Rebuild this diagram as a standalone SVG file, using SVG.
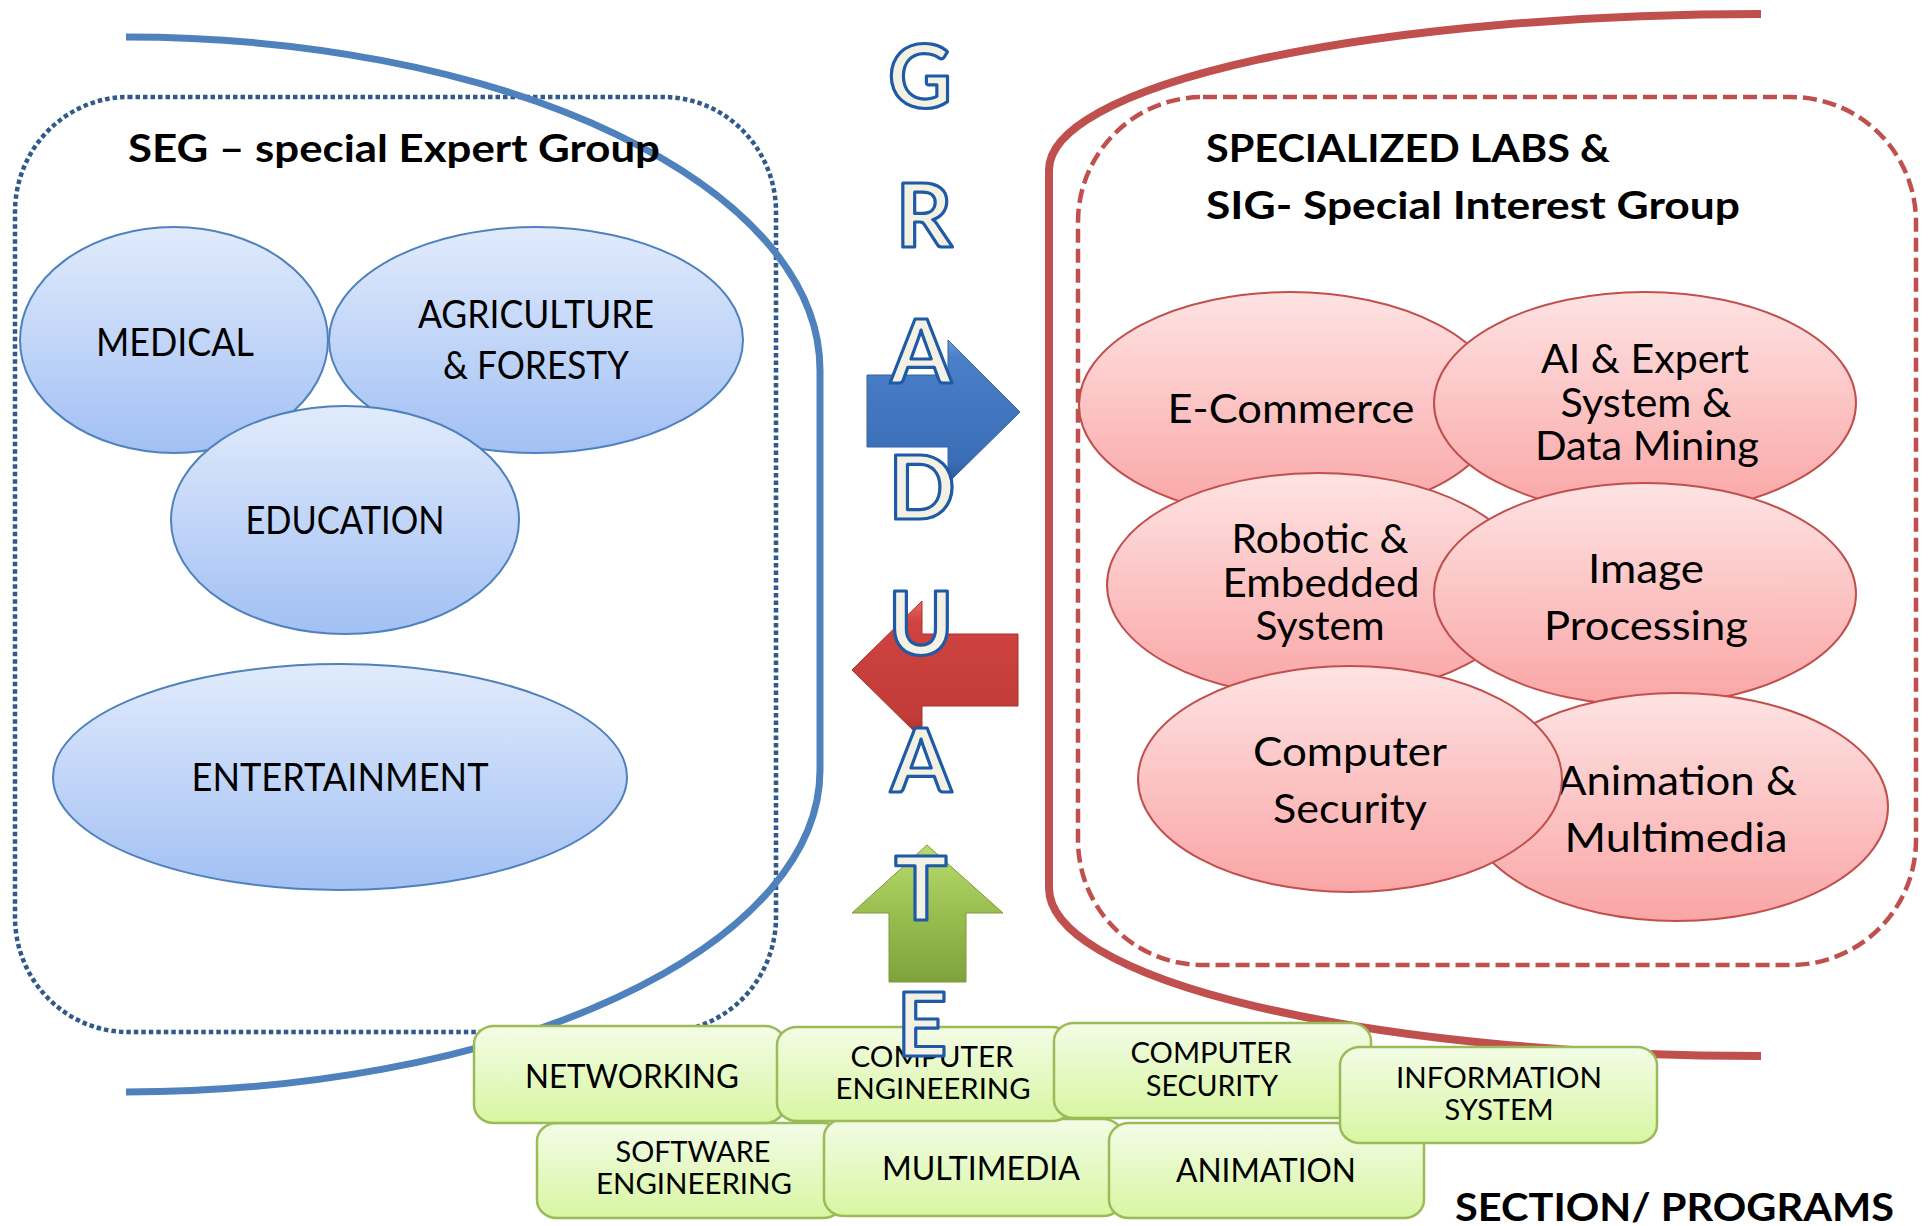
<svg xmlns="http://www.w3.org/2000/svg" width="1928" height="1226" viewBox="0 0 1928 1226">
<defs>
<linearGradient id="gBlue" x1="0" y1="0" x2="0" y2="1">
<stop offset="0" stop-color="#E1EBFC"/><stop offset="1" stop-color="#A2C0F4"/>
</linearGradient>
<linearGradient id="gPink" x1="0" y1="0" x2="0" y2="1">
<stop offset="0" stop-color="#FEE3E3"/><stop offset="1" stop-color="#FAA5A5"/>
</linearGradient>
<linearGradient id="gGreen" x1="0" y1="0" x2="0" y2="1">
<stop offset="0" stop-color="#F3FCE6"/><stop offset="1" stop-color="#D8F6A2"/>
</linearGradient>
<linearGradient id="gArrowBlue" x1="0" y1="0" x2="0" y2="1">
<stop offset="0" stop-color="#6A9BDD"/><stop offset="0.12" stop-color="#4A80C8"/><stop offset="0.85" stop-color="#3A6DB6"/><stop offset="1" stop-color="#2B5A99"/>
</linearGradient>
<linearGradient id="gArrowRed" x1="0" y1="0" x2="0" y2="1">
<stop offset="0" stop-color="#E46A66"/><stop offset="0.15" stop-color="#CF4340"/><stop offset="0.85" stop-color="#C13B38"/><stop offset="1" stop-color="#9E2B29"/>
</linearGradient>
<linearGradient id="gArrowGreen" x1="0" y1="0" x2="0" y2="1">
<stop offset="0" stop-color="#B9DB6E"/><stop offset="0.5" stop-color="#99BE4F"/><stop offset="1" stop-color="#7FA23C"/>
</linearGradient>
<style>
.t{font-family:Lato,"Open Sans","Liberation Sans",sans-serif;fill:#000;text-anchor:middle}
.b{font-weight:bold}
.lb{font-size:38px}
.lp{font-size:41px}
.lg1{font-size:32px}
.lg2{font-size:28px}
.eb{fill:url(#gBlue);stroke:#4F81BD;stroke-width:2}
.ep{fill:url(#gPink);stroke:#C0504D;stroke-width:2}
.bx{fill:url(#gGreen);stroke:#9BBB59;stroke-width:2.5}
.ltr{font-family:Lato,"Open Sans","Liberation Sans",sans-serif;font-weight:bold;font-size:88px;fill:#F3F0E4;stroke:#1F5AA6;stroke-width:3.2;stroke-linejoin:round;text-anchor:middle}
</style>
</defs>
<rect width="1928" height="1226" fill="#FFFFFF"/>

<g id="frames">
<rect x="15" y="97" width="761" height="935" rx="113" ry="115" fill="none" stroke="#30598C" stroke-width="4.5" stroke-dasharray="4.5 3"/>
<path d="M126,37 A694,333 0 0 1 820,370 L820,770 A694,322 0 0 1 126,1092" fill="none" stroke="#4F81BD" stroke-width="7"/>
<path d="M1761,14 A712,156 0 0 0 1049,170 L1049,888 A712,168 0 0 0 1761,1056" fill="none" stroke="#C0504D" stroke-width="8"/>
<rect x="1078" y="97" width="838" height="868" rx="125" ry="125" fill="none" stroke="#C0504D" stroke-width="4.5" stroke-dasharray="14 6"/>
</g>

<g id="seg-title">
<text class="t b lb" x="394" y="162" textLength="532" lengthAdjust="spacingAndGlyphs">SEG – special Expert Group</text>
</g>
<g id="node-medical">
<ellipse class="eb" cx="174" cy="340" rx="154" ry="113"/>
<text class="t lb" x="175" y="356" textLength="158" lengthAdjust="spacingAndGlyphs">MEDICAL</text>
</g>
<g id="node-agriculture">
<ellipse class="eb" cx="536" cy="340" rx="207" ry="113"/>
<text class="t lb" x="536" y="328" textLength="236" lengthAdjust="spacingAndGlyphs">AGRICULTURE</text>
<text class="t lb" x="536" y="379" textLength="186" lengthAdjust="spacingAndGlyphs">&amp; FORESTY</text>
</g>
<g id="node-education">
<ellipse class="eb" cx="345" cy="520" rx="174" ry="114"/>
<text class="t lb" x="345" y="534" textLength="199" lengthAdjust="spacingAndGlyphs">EDUCATION</text>
</g>
<g id="node-entertainment">
<ellipse class="eb" cx="340" cy="777" rx="287" ry="113"/>
<text class="t lb" x="340" y="791" textLength="297" lengthAdjust="spacingAndGlyphs">ENTERTAINMENT</text>
</g>

<g id="sig-title">
<text class="t b lb" style="text-anchor:start" x="1206" y="162" textLength="404" lengthAdjust="spacingAndGlyphs">SPECIALIZED LABS &amp;</text>
<text class="t b lb" style="text-anchor:start" x="1206" y="219" textLength="534" lengthAdjust="spacingAndGlyphs">SIG- Special Interest Group</text>
</g>
<g id="node-ecommerce">
<ellipse class="ep" cx="1290" cy="405" rx="211" ry="113"/>
<text class="t lp" x="1291" y="423" textLength="247" lengthAdjust="spacingAndGlyphs">E-Commerce</text>
</g>
<g id="node-ai">
<ellipse class="ep" cx="1645" cy="403" rx="211" ry="111"/>
<text class="t lp" x="1645" y="373" textLength="208" lengthAdjust="spacingAndGlyphs">AI &amp; Expert</text>
<text class="t lp" x="1646" y="417" textLength="171" lengthAdjust="spacingAndGlyphs">System &amp;</text>
<text class="t lp" x="1647" y="460" textLength="224" lengthAdjust="spacingAndGlyphs">Data Mining</text>
</g>
<g id="node-robotic">
<ellipse class="ep" cx="1318" cy="585" rx="211" ry="112"/>
<text class="t lp" x="1320" y="553" textLength="177" lengthAdjust="spacingAndGlyphs">Robotic &amp;</text>
<text class="t lp" x="1321" y="597" textLength="197" lengthAdjust="spacingAndGlyphs">Embedded</text>
<text class="t lp" x="1320" y="640" textLength="129" lengthAdjust="spacingAndGlyphs">System</text>
</g>
<g id="node-image">
<ellipse class="ep" cx="1645" cy="594" rx="211" ry="111"/>
<text class="t lp" x="1646" y="583" textLength="116" lengthAdjust="spacingAndGlyphs">Image</text>
<text class="t lp" x="1646" y="640" textLength="204" lengthAdjust="spacingAndGlyphs">Processing</text>
</g>
<g id="node-animation">
<ellipse class="ep" cx="1677" cy="807" rx="211" ry="114"/>
<text class="t lp" x="1677" y="795" textLength="240" lengthAdjust="spacingAndGlyphs">Animation &amp;</text>
<text class="t lp" x="1676" y="852" textLength="223" lengthAdjust="spacingAndGlyphs">Multimedia</text>
</g>
<g id="node-computer-security">
<ellipse class="ep" cx="1350" cy="779" rx="212" ry="113"/>
<text class="t lp" x="1350" y="766" textLength="194" lengthAdjust="spacingAndGlyphs">Computer</text>
<text class="t lp" x="1350" y="823" textLength="154" lengthAdjust="spacingAndGlyphs">Security</text>
</g>

<g id="connectors">
<path d="M867,375 L948,375 L948,340 L1020,412 L948,483 L948,447 L867,447 Z" fill="url(#gArrowBlue)" stroke="#35649F" stroke-width="1"/>
<path d="M1018,634 L922,634 L922,601 L852,670 L922,739 L922,706 L1018,706 Z" fill="url(#gArrowRed)" stroke="#A8322F" stroke-width="1"/>
<path d="M927,845 L1003,913 L966,913 L966,982 L889,982 L889,913 L852,913 Z" fill="url(#gArrowGreen)" stroke="#7A9A3A" stroke-width="1"/>
</g>

<g id="box-software">
<rect class="bx" x="537" y="1123" width="306" height="95" rx="20" ry="18"/>
<text class="t lg2" x="693" y="1162" textLength="155" lengthAdjust="spacingAndGlyphs">SOFTWARE</text>
<text class="t lg2" x="694" y="1194" textLength="196" lengthAdjust="spacingAndGlyphs">ENGINEERING</text>
</g>
<g id="box-multimedia">
<rect class="bx" x="824" y="1119" width="299" height="97" rx="20" ry="18"/>
<text class="t lg1" x="981" y="1180" textLength="198" lengthAdjust="spacingAndGlyphs">MULTIMEDIA</text>
</g>
<g id="box-animation">
<rect class="bx" x="1109" y="1123" width="315" height="95" rx="20" ry="18"/>
<text class="t lg1" x="1266" y="1182" textLength="180" lengthAdjust="spacingAndGlyphs">ANIMATION</text>
</g>
<g id="box-networking">
<rect class="bx" x="474" y="1026" width="311" height="97" rx="20" ry="18"/>
<text class="t lg1" x="632" y="1088" textLength="214" lengthAdjust="spacingAndGlyphs">NETWORKING</text>
</g>
<g id="box-computer-engineering">
<rect class="bx" x="777" y="1027" width="295" height="94" rx="20" ry="18"/>
<text class="t lg2" x="932" y="1067" textLength="163" lengthAdjust="spacingAndGlyphs">COMPUTER</text>
<text class="t lg2" x="933" y="1099" textLength="195" lengthAdjust="spacingAndGlyphs">ENGINEERING</text>
</g>
<g id="box-computer-security">
<rect class="bx" x="1054" y="1023" width="317" height="95" rx="20" ry="18"/>
<text class="t lg2" x="1211" y="1063" textLength="161" lengthAdjust="spacingAndGlyphs">COMPUTER</text>
<text class="t lg2" x="1212" y="1096" textLength="132" lengthAdjust="spacingAndGlyphs">SECURITY</text>
</g>
<g id="box-information-system">
<rect class="bx" x="1340" y="1047" width="317" height="96" rx="20" ry="18"/>
<text class="t lg2" x="1499" y="1088" textLength="206" lengthAdjust="spacingAndGlyphs">INFORMATION</text>
<text class="t lg2" x="1499" y="1120" textLength="109" lengthAdjust="spacingAndGlyphs">SYSTEM</text>
</g>

<g id="graduate">
<text class="ltr" x="920" y="108">G</text>
<text class="ltr" x="924" y="247">R</text>
<text class="ltr" x="921" y="383">A</text>
<text class="ltr" x="922" y="519">D</text>
<text class="ltr" x="921" y="655">U</text>
<text class="ltr" x="921" y="792">A</text>
<text class="ltr" x="921" y="920">T</text>
<text class="ltr" x="922" y="1056">E</text>
</g>

<g id="section-label">
<text class="t b" style="text-anchor:start;font-size:39px" x="1455" y="1221" textLength="439" lengthAdjust="spacingAndGlyphs">SECTION/ PROGRAMS</text>
</g>
</svg>
